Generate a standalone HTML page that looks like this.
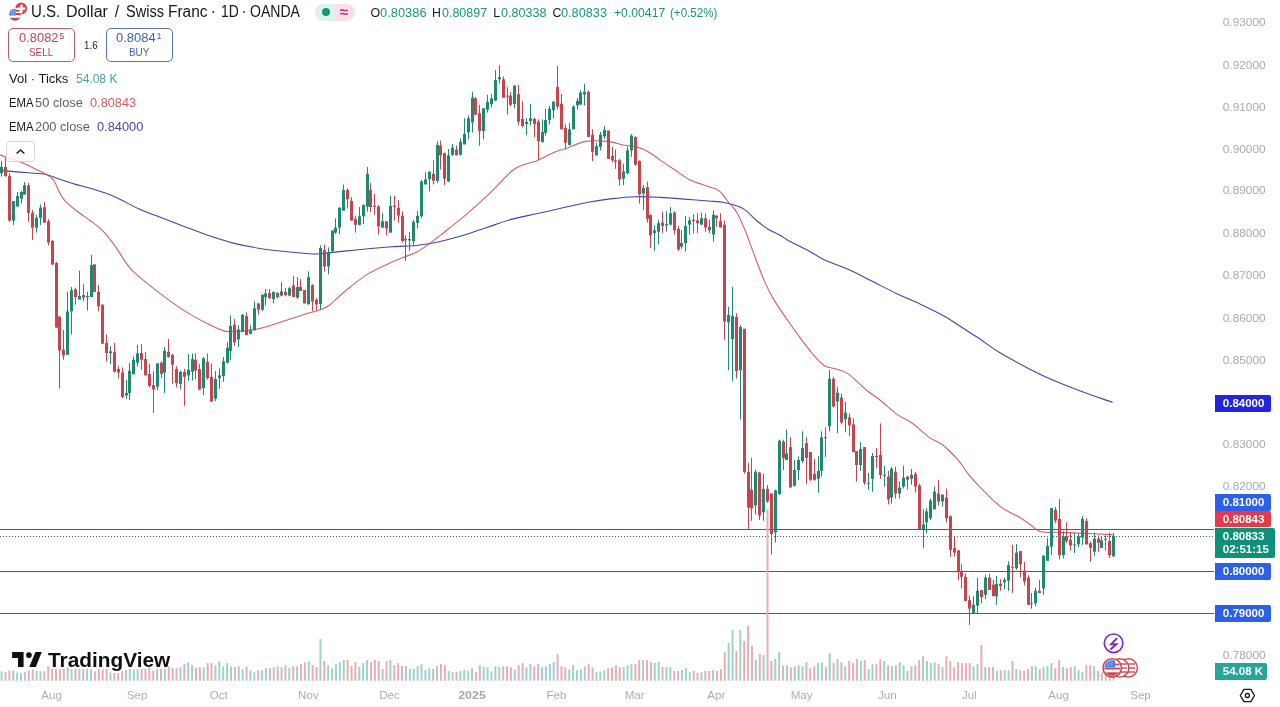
<!DOCTYPE html>
<html><head><meta charset="utf-8"><title>USDCHF</title>
<style>
html,body{margin:0;padding:0;background:#fff;}
body{width:1280px;height:707px;overflow:hidden;position:relative;font-family:"Liberation Sans",Arial,sans-serif;}
.chart{position:absolute;left:0;top:0;}
.t{position:absolute;white-space:pre;}
.tag{position:absolute;left:1215.3px;color:#fff;font-weight:700;box-sizing:border-box;padding-left:7.5px;border-radius:0 2px 2px 0;font-family:"Liberation Sans",Arial,sans-serif;}
.box{position:absolute;box-sizing:border-box;border:1px solid;border-radius:5px;background:#fff;}
</style></head><body>
<svg class="chart" width="1280" height="707" viewBox="0 0 1280 707">
<g stroke="#4d5a6a" stroke-width="1">
<line x1="0" y1="529.5" x2="1214" y2="529.5"/>
<line x1="0" y1="571.5" x2="1214" y2="571.5"/>
<line x1="0" y1="613.5" x2="1214" y2="613.5"/>
</g>
<line x1="0" y1="536.5" x2="1214" y2="536.5" stroke="#3f5a5a" stroke-width="1" stroke-dasharray="1 2"/>
<g fill="#a2d0cc"><rect x="0.60" y="671.3" width="2" height="9.4"/><rect x="12.26" y="670.3" width="2" height="10.4"/><rect x="16.15" y="672.5" width="2" height="8.2"/><rect x="20.04" y="673.1" width="2" height="7.6"/><rect x="23.93" y="672.3" width="2" height="8.4"/><rect x="35.59" y="671.0" width="2" height="9.7"/><rect x="39.48" y="671.3" width="2" height="9.4"/><rect x="66.70" y="667.5" width="2" height="13.2"/><rect x="70.58" y="669.0" width="2" height="11.7"/><rect x="78.36" y="669.0" width="2" height="11.7"/><rect x="86.14" y="669.0" width="2" height="11.7"/><rect x="90.02" y="669.4" width="2" height="11.3"/><rect x="109.46" y="672.5" width="2" height="8.2"/><rect x="125.02" y="670.0" width="2" height="10.7"/><rect x="128.90" y="669.0" width="2" height="11.7"/><rect x="132.79" y="669.4" width="2" height="11.3"/><rect x="136.68" y="669.4" width="2" height="11.3"/><rect x="156.12" y="669.0" width="2" height="11.7"/><rect x="163.90" y="669.0" width="2" height="11.7"/><rect x="179.45" y="667.3" width="2" height="13.4"/><rect x="187.22" y="662.3" width="2" height="18.4"/><rect x="191.11" y="665.3" width="2" height="15.4"/><rect x="202.78" y="667.3" width="2" height="13.4"/><rect x="214.44" y="665.3" width="2" height="15.4"/><rect x="218.33" y="661.3" width="2" height="19.4"/><rect x="222.22" y="666.3" width="2" height="14.4"/><rect x="226.10" y="663.1" width="2" height="17.6"/><rect x="229.99" y="666.3" width="2" height="14.4"/><rect x="237.77" y="666.3" width="2" height="14.4"/><rect x="241.66" y="669.1" width="2" height="11.6"/><rect x="249.43" y="670.3" width="2" height="10.4"/><rect x="253.32" y="672.3" width="2" height="8.4"/><rect x="261.10" y="670.3" width="2" height="10.4"/><rect x="264.98" y="668.1" width="2" height="12.6"/><rect x="272.76" y="667.3" width="2" height="13.4"/><rect x="280.54" y="667.3" width="2" height="13.4"/><rect x="288.31" y="668.1" width="2" height="12.6"/><rect x="296.09" y="666.3" width="2" height="14.4"/><rect x="307.75" y="661.3" width="2" height="19.4"/><rect x="319.42" y="639.0" width="2" height="41.7"/><rect x="327.19" y="665.3" width="2" height="15.4"/><rect x="331.08" y="668.1" width="2" height="12.6"/><rect x="334.97" y="664.0" width="2" height="16.7"/><rect x="338.86" y="662.1" width="2" height="18.6"/><rect x="342.74" y="660.0" width="2" height="20.7"/><rect x="358.30" y="667.0" width="2" height="13.7"/><rect x="362.18" y="663.1" width="2" height="17.6"/><rect x="366.07" y="660.0" width="2" height="20.7"/><rect x="381.62" y="669.0" width="2" height="11.7"/><rect x="389.40" y="660.0" width="2" height="20.7"/><rect x="404.95" y="666.0" width="2" height="14.7"/><rect x="408.84" y="669.0" width="2" height="11.7"/><rect x="412.73" y="669.0" width="2" height="11.7"/><rect x="416.62" y="666.0" width="2" height="14.7"/><rect x="420.50" y="664.0" width="2" height="16.7"/><rect x="424.39" y="670.0" width="2" height="10.7"/><rect x="428.28" y="668.1" width="2" height="12.6"/><rect x="436.06" y="666.0" width="2" height="14.7"/><rect x="447.72" y="671.0" width="2" height="9.7"/><rect x="451.61" y="672.0" width="2" height="8.7"/><rect x="459.38" y="671.0" width="2" height="9.7"/><rect x="463.27" y="670.0" width="2" height="10.7"/><rect x="467.16" y="671.0" width="2" height="9.7"/><rect x="471.05" y="668.1" width="2" height="12.6"/><rect x="482.71" y="667.0" width="2" height="13.7"/><rect x="486.60" y="667.3" width="2" height="13.4"/><rect x="490.49" y="671.3" width="2" height="9.4"/><rect x="494.38" y="666.3" width="2" height="14.4"/><rect x="498.26" y="667.3" width="2" height="13.4"/><rect x="513.82" y="669.4" width="2" height="11.3"/><rect x="525.48" y="667.3" width="2" height="13.4"/><rect x="529.37" y="664.0" width="2" height="16.7"/><rect x="541.03" y="667.3" width="2" height="13.4"/><rect x="544.92" y="666.3" width="2" height="14.4"/><rect x="548.81" y="664.0" width="2" height="16.7"/><rect x="552.70" y="662.3" width="2" height="18.4"/><rect x="568.25" y="669.4" width="2" height="11.3"/><rect x="572.14" y="665.3" width="2" height="15.4"/><rect x="576.02" y="670.3" width="2" height="10.4"/><rect x="579.91" y="669.4" width="2" height="11.3"/><rect x="583.80" y="666.3" width="2" height="14.4"/><rect x="595.46" y="672.3" width="2" height="8.4"/><rect x="599.35" y="671.3" width="2" height="9.4"/><rect x="603.24" y="670.3" width="2" height="10.4"/><rect x="622.68" y="667.0" width="2" height="13.7"/><rect x="626.57" y="665.0" width="2" height="15.7"/><rect x="630.46" y="664.0" width="2" height="16.7"/><rect x="642.12" y="660.0" width="2" height="20.7"/><rect x="653.78" y="663.0" width="2" height="17.7"/><rect x="657.67" y="662.0" width="2" height="18.7"/><rect x="665.45" y="666.9" width="2" height="13.8"/><rect x="669.34" y="666.9" width="2" height="13.8"/><rect x="681.00" y="670.0" width="2" height="10.7"/><rect x="684.89" y="668.0" width="2" height="12.7"/><rect x="688.78" y="672.0" width="2" height="8.7"/><rect x="700.44" y="672.0" width="2" height="8.7"/><rect x="712.10" y="670.0" width="2" height="10.7"/><rect x="727.66" y="643.0" width="2" height="37.7"/><rect x="731.54" y="630.0" width="2" height="50.7"/><rect x="739.32" y="630.0" width="2" height="50.7"/><rect x="754.87" y="660.0" width="2" height="20.7"/><rect x="762.65" y="655.0" width="2" height="25.7"/><rect x="774.31" y="659.0" width="2" height="21.7"/><rect x="778.20" y="652.0" width="2" height="28.7"/><rect x="785.98" y="665.3" width="2" height="15.4"/><rect x="793.75" y="666.3" width="2" height="14.4"/><rect x="797.64" y="665.3" width="2" height="15.4"/><rect x="801.53" y="666.3" width="2" height="14.4"/><rect x="817.08" y="663.1" width="2" height="17.6"/><rect x="820.97" y="662.3" width="2" height="18.4"/><rect x="828.74" y="653.1" width="2" height="27.6"/><rect x="836.52" y="659.1" width="2" height="21.6"/><rect x="844.30" y="666.3" width="2" height="14.4"/><rect x="859.85" y="661.0" width="2" height="19.7"/><rect x="867.62" y="669.1" width="2" height="11.6"/><rect x="871.51" y="664.0" width="2" height="16.7"/><rect x="883.18" y="661.0" width="2" height="19.7"/><rect x="890.95" y="666.3" width="2" height="14.4"/><rect x="898.73" y="662.3" width="2" height="18.4"/><rect x="902.62" y="665.3" width="2" height="15.4"/><rect x="910.39" y="666.3" width="2" height="14.4"/><rect x="922.06" y="656.3" width="2" height="24.4"/><rect x="925.94" y="661.0" width="2" height="19.7"/><rect x="929.83" y="663.1" width="2" height="17.6"/><rect x="933.72" y="662.3" width="2" height="18.4"/><rect x="941.50" y="667.1" width="2" height="13.6"/><rect x="972.60" y="666.2" width="2" height="14.5"/><rect x="976.49" y="664.2" width="2" height="16.5"/><rect x="984.26" y="667.1" width="2" height="13.6"/><rect x="995.93" y="671.0" width="2" height="9.7"/><rect x="1003.70" y="670.2" width="2" height="10.5"/><rect x="1007.59" y="670.2" width="2" height="10.5"/><rect x="1015.37" y="669.1" width="2" height="11.6"/><rect x="1030.92" y="666.2" width="2" height="14.5"/><rect x="1034.81" y="666.2" width="2" height="14.5"/><rect x="1042.58" y="667.1" width="2" height="13.6"/><rect x="1046.47" y="666.2" width="2" height="14.5"/><rect x="1050.36" y="663.1" width="2" height="17.6"/><rect x="1062.02" y="667.1" width="2" height="13.6"/><rect x="1073.69" y="666.2" width="2" height="14.5"/><rect x="1077.58" y="670.2" width="2" height="10.5"/><rect x="1081.46" y="672.1" width="2" height="8.6"/><rect x="1093.13" y="666.2" width="2" height="14.5"/><rect x="1100.90" y="672.4" width="2" height="8.3"/><rect x="1112.57" y="674.0" width="2" height="6.7"/></g>
<g fill="#e4b0b4"><rect x="4.49" y="672.3" width="2" height="8.4"/><rect x="8.38" y="670.3" width="2" height="10.4"/><rect x="27.82" y="670.3" width="2" height="10.4"/><rect x="31.70" y="669.4" width="2" height="11.3"/><rect x="43.37" y="671.3" width="2" height="9.4"/><rect x="47.26" y="666.3" width="2" height="14.4"/><rect x="51.14" y="668.8" width="2" height="11.9"/><rect x="55.03" y="669.0" width="2" height="11.7"/><rect x="58.92" y="669.0" width="2" height="11.7"/><rect x="62.81" y="669.0" width="2" height="11.7"/><rect x="74.47" y="669.0" width="2" height="11.7"/><rect x="82.25" y="669.0" width="2" height="11.7"/><rect x="93.91" y="671.3" width="2" height="9.4"/><rect x="97.80" y="669.0" width="2" height="11.7"/><rect x="101.69" y="669.4" width="2" height="11.3"/><rect x="105.58" y="668.8" width="2" height="11.9"/><rect x="113.35" y="673.1" width="2" height="7.6"/><rect x="117.24" y="673.1" width="2" height="7.6"/><rect x="121.13" y="671.3" width="2" height="9.4"/><rect x="140.57" y="668.8" width="2" height="11.9"/><rect x="144.46" y="668.8" width="2" height="11.9"/><rect x="148.34" y="667.5" width="2" height="13.2"/><rect x="152.23" y="670.6" width="2" height="10.1"/><rect x="160.01" y="669.0" width="2" height="11.7"/><rect x="167.78" y="666.3" width="2" height="14.4"/><rect x="171.67" y="668.1" width="2" height="12.6"/><rect x="175.56" y="668.1" width="2" height="12.6"/><rect x="183.34" y="664.0" width="2" height="16.7"/><rect x="195.00" y="668.1" width="2" height="12.6"/><rect x="198.89" y="667.3" width="2" height="13.4"/><rect x="206.66" y="663.1" width="2" height="17.6"/><rect x="210.55" y="663.1" width="2" height="17.6"/><rect x="233.88" y="667.3" width="2" height="13.4"/><rect x="245.54" y="666.3" width="2" height="14.4"/><rect x="257.21" y="670.3" width="2" height="10.4"/><rect x="268.87" y="668.1" width="2" height="12.6"/><rect x="276.65" y="666.3" width="2" height="14.4"/><rect x="284.42" y="665.3" width="2" height="15.4"/><rect x="292.20" y="666.3" width="2" height="14.4"/><rect x="299.98" y="664.0" width="2" height="16.7"/><rect x="303.86" y="662.3" width="2" height="18.4"/><rect x="311.64" y="665.0" width="2" height="15.7"/><rect x="315.53" y="667.0" width="2" height="13.7"/><rect x="323.30" y="661.0" width="2" height="19.7"/><rect x="346.63" y="660.0" width="2" height="20.7"/><rect x="350.52" y="666.0" width="2" height="14.7"/><rect x="354.41" y="662.1" width="2" height="18.6"/><rect x="369.96" y="662.1" width="2" height="18.6"/><rect x="373.85" y="660.0" width="2" height="20.7"/><rect x="377.74" y="661.0" width="2" height="19.7"/><rect x="385.51" y="661.0" width="2" height="19.7"/><rect x="393.29" y="665.0" width="2" height="15.7"/><rect x="397.18" y="663.1" width="2" height="17.6"/><rect x="401.06" y="666.0" width="2" height="14.7"/><rect x="432.17" y="669.0" width="2" height="11.7"/><rect x="439.94" y="664.0" width="2" height="16.7"/><rect x="443.83" y="665.0" width="2" height="15.7"/><rect x="455.50" y="672.0" width="2" height="8.7"/><rect x="474.94" y="672.3" width="2" height="8.4"/><rect x="478.82" y="665.3" width="2" height="15.4"/><rect x="502.15" y="666.3" width="2" height="14.4"/><rect x="506.04" y="666.3" width="2" height="14.4"/><rect x="509.93" y="667.3" width="2" height="13.4"/><rect x="517.70" y="665.3" width="2" height="15.4"/><rect x="521.59" y="663.1" width="2" height="17.6"/><rect x="533.26" y="666.3" width="2" height="14.4"/><rect x="537.14" y="664.0" width="2" height="16.7"/><rect x="556.58" y="654.1" width="2" height="26.6"/><rect x="560.47" y="666.3" width="2" height="14.4"/><rect x="564.36" y="667.3" width="2" height="13.4"/><rect x="587.69" y="664.0" width="2" height="16.7"/><rect x="591.58" y="667.3" width="2" height="13.4"/><rect x="607.13" y="668.1" width="2" height="12.6"/><rect x="611.02" y="667.3" width="2" height="13.4"/><rect x="614.90" y="665.3" width="2" height="15.4"/><rect x="618.79" y="667.3" width="2" height="13.4"/><rect x="634.34" y="664.0" width="2" height="16.7"/><rect x="638.23" y="660.0" width="2" height="20.7"/><rect x="646.01" y="660.0" width="2" height="20.7"/><rect x="649.90" y="662.0" width="2" height="18.7"/><rect x="661.56" y="666.9" width="2" height="13.8"/><rect x="673.22" y="671.0" width="2" height="9.7"/><rect x="677.11" y="671.0" width="2" height="9.7"/><rect x="692.66" y="671.0" width="2" height="9.7"/><rect x="696.55" y="673.0" width="2" height="7.7"/><rect x="704.33" y="671.0" width="2" height="9.7"/><rect x="708.22" y="671.0" width="2" height="9.7"/><rect x="715.99" y="671.0" width="2" height="9.7"/><rect x="719.88" y="669.0" width="2" height="11.7"/><rect x="723.77" y="652.0" width="2" height="28.7"/><rect x="735.43" y="651.0" width="2" height="29.7"/><rect x="743.21" y="641.0" width="2" height="39.7"/><rect x="747.10" y="626.0" width="2" height="54.7"/><rect x="750.98" y="646.0" width="2" height="34.7"/><rect x="758.76" y="654.0" width="2" height="26.7"/><rect x="766.54" y="509.4" width="2" height="171.3"/><rect x="770.42" y="661.0" width="2" height="19.7"/><rect x="782.09" y="665.3" width="2" height="15.4"/><rect x="789.86" y="667.3" width="2" height="13.4"/><rect x="805.42" y="662.3" width="2" height="18.4"/><rect x="809.30" y="668.1" width="2" height="12.6"/><rect x="813.19" y="666.3" width="2" height="14.4"/><rect x="824.86" y="667.3" width="2" height="13.4"/><rect x="832.63" y="663.1" width="2" height="17.6"/><rect x="840.41" y="662.3" width="2" height="18.4"/><rect x="848.18" y="661.0" width="2" height="19.7"/><rect x="852.07" y="663.1" width="2" height="17.6"/><rect x="855.96" y="659.1" width="2" height="21.6"/><rect x="863.74" y="660.0" width="2" height="20.7"/><rect x="875.40" y="664.0" width="2" height="16.7"/><rect x="879.29" y="659.1" width="2" height="21.6"/><rect x="887.06" y="665.3" width="2" height="15.4"/><rect x="894.84" y="665.3" width="2" height="15.4"/><rect x="906.50" y="671.0" width="2" height="9.7"/><rect x="914.28" y="665.3" width="2" height="15.4"/><rect x="918.17" y="660.0" width="2" height="20.7"/><rect x="937.61" y="664.0" width="2" height="16.7"/><rect x="945.38" y="656.2" width="2" height="24.5"/><rect x="949.27" y="660.9" width="2" height="19.8"/><rect x="953.16" y="667.1" width="2" height="13.6"/><rect x="957.05" y="662.1" width="2" height="18.6"/><rect x="960.94" y="663.1" width="2" height="17.6"/><rect x="964.82" y="663.1" width="2" height="17.6"/><rect x="968.71" y="663.1" width="2" height="17.6"/><rect x="980.38" y="645.1" width="2" height="35.6"/><rect x="988.15" y="667.1" width="2" height="13.6"/><rect x="992.04" y="667.1" width="2" height="13.6"/><rect x="999.82" y="670.2" width="2" height="10.5"/><rect x="1011.48" y="660.9" width="2" height="19.8"/><rect x="1019.26" y="670.2" width="2" height="10.5"/><rect x="1023.14" y="671.0" width="2" height="9.7"/><rect x="1027.03" y="669.1" width="2" height="11.6"/><rect x="1038.70" y="669.1" width="2" height="11.6"/><rect x="1054.25" y="668.1" width="2" height="12.6"/><rect x="1058.14" y="660.2" width="2" height="20.5"/><rect x="1065.91" y="668.1" width="2" height="12.6"/><rect x="1069.80" y="667.1" width="2" height="13.6"/><rect x="1085.35" y="665.2" width="2" height="15.5"/><rect x="1089.24" y="665.2" width="2" height="15.5"/><rect x="1097.02" y="671.0" width="2" height="9.7"/><rect x="1104.79" y="674.0" width="2" height="6.7"/><rect x="1108.68" y="674.0" width="2" height="6.7"/></g>
<path d="M0.0,170.4 C1.4,170.5 3.8,170.7 8.5,171.1 C13.2,171.5 22.2,172.3 28.3,172.8 C34.4,173.3 40.6,173.3 45.3,174.2 C50.0,175.1 53.3,177.1 56.6,178.2 C59.9,179.3 61.7,179.9 65.0,181.0 C68.3,182.1 72.2,183.4 76.4,184.6 C80.6,185.8 83.7,186.2 90.0,188.2 C96.3,190.2 106.0,193.1 114.0,196.5 C122.0,199.9 130.1,204.9 138.1,208.5 C146.1,212.1 154.2,215.0 162.2,218.1 C170.2,221.2 178.2,224.2 186.2,227.2 C194.2,230.2 202.2,233.4 210.2,236.1 C218.2,238.8 226.3,241.4 234.3,243.4 C242.3,245.4 250.4,246.9 258.4,248.2 C266.4,249.5 274.4,250.4 282.4,251.3 C290.4,252.2 300.2,253.1 306.5,253.5 C312.8,253.9 313.8,254.2 320.0,253.8 C326.2,253.4 336.0,251.9 344.0,251.1 C352.0,250.2 360.1,249.4 368.1,248.7 C376.1,248.0 384.2,247.2 392.2,246.7 C400.2,246.2 410.2,246.0 416.2,245.5 C422.2,245.0 424.2,244.6 428.2,243.9 C432.2,243.2 434.2,243.0 440.2,241.5 C446.2,240.0 456.3,237.4 464.3,235.0 C472.3,232.6 480.3,229.7 488.3,227.0 C496.3,224.3 504.4,221.3 512.4,219.1 C520.4,216.9 528.5,215.6 536.4,213.8 C544.3,212.0 551.4,210.4 560.0,208.5 C568.6,206.6 579.4,203.8 588.1,202.2 C596.8,200.5 604.2,199.5 612.2,198.6 C620.2,197.7 628.2,196.9 636.2,196.7 C644.2,196.5 652.3,197.0 660.3,197.4 C668.3,197.8 676.3,198.5 684.3,199.1 C692.3,199.7 702.0,200.5 708.4,201.0 C714.8,201.5 718.8,201.6 722.8,202.2 C726.8,202.8 728.8,203.4 732.4,204.6 C736.0,205.8 740.4,206.8 744.4,209.4 C748.4,212.1 752.5,217.2 756.5,220.5 C760.5,223.8 764.6,227.1 768.5,229.5 C772.4,231.9 776.7,233.4 780.0,235.2 C783.3,237.0 783.6,237.9 788.1,240.4 C792.6,242.9 801.3,246.9 807.3,250.1 C813.3,253.3 817.4,256.5 824.2,259.7 C831.0,262.9 840.2,265.7 848.2,269.3 C856.2,272.9 864.3,277.3 872.3,281.3 C880.3,285.3 888.3,289.6 896.3,293.4 C904.3,297.2 912.4,300.4 920.4,304.2 C928.4,308.0 937.6,312.4 944.4,316.2 C951.2,320.0 955.4,323.2 961.3,327.0 C967.2,330.8 973.5,334.7 980.0,339.0 C986.5,343.3 989.9,346.8 1000.0,352.7 C1010.1,358.6 1027.5,368.2 1040.4,374.4 C1053.4,380.6 1065.7,385.3 1077.7,390.0 C1089.7,394.7 1106.8,400.3 1112.6,402.4" fill="none" stroke="#4643a8" stroke-width="1.1"/>
<path d="M0.0,154.9 C1.0,155.2 2.6,155.9 5.7,157.0 C8.8,158.1 14.6,159.8 18.4,161.2 C22.2,162.6 25.2,164.1 28.3,165.5 C31.4,166.9 33.7,168.2 36.8,169.7 C39.9,171.2 43.9,172.9 46.7,174.7 C49.5,176.5 51.6,177.4 53.7,180.3 C55.8,183.2 57.5,188.9 59.4,192.3 C61.3,195.7 62.2,197.7 65.0,200.8 C67.8,203.9 72.2,207.4 76.4,210.7 C80.6,214.0 85.7,217.3 90.0,220.5 C94.3,223.7 98.0,226.1 102.0,230.1 C106.0,234.1 109.6,238.6 114.0,244.6 C118.4,250.6 124.5,261.0 128.5,266.2 C132.5,271.4 132.5,271.0 138.1,275.8 C143.7,280.6 154.2,289.1 162.2,295.1 C170.2,301.1 178.2,306.9 186.2,311.9 C194.2,316.9 203.8,321.9 210.2,325.1 C216.6,328.3 220.7,330.0 224.7,331.1 C228.7,332.2 228.7,332.0 234.3,331.6 C239.9,331.2 250.4,330.4 258.4,328.7 C266.4,327.0 274.4,324.0 282.4,321.5 C290.4,319.0 300.1,315.8 306.5,313.8 C312.9,311.8 317.0,311.0 320.9,309.5 C324.8,308.0 325.7,307.9 330.0,304.7 C334.3,301.4 340.1,295.1 346.5,290.0 C352.9,284.9 360.5,278.6 368.1,273.9 C375.7,269.2 386.2,264.7 392.2,261.9 C398.2,259.1 400.2,258.7 404.2,257.1 C408.2,255.5 412.2,254.4 416.2,252.3 C420.2,250.2 424.2,247.4 428.2,244.6 C432.2,241.8 434.2,240.1 440.2,235.4 C446.2,230.7 456.3,223.0 464.3,216.2 C472.3,209.4 480.3,202.2 488.3,194.6 C496.3,187.0 506.4,175.5 512.4,170.5 C518.4,165.5 520.4,166.1 524.4,164.5 C528.4,162.9 532.4,162.5 536.4,160.9 C540.4,159.3 544.6,156.7 548.5,154.9 C552.4,153.1 557.4,151.0 560.0,150.1 C562.6,149.2 559.7,150.8 564.0,149.3 C568.3,147.9 578.5,142.7 585.7,141.4 C592.9,140.1 600.9,140.8 607.3,141.4 C613.7,142.0 619.4,144.3 624.2,145.2 C629.0,146.1 632.2,145.8 636.2,146.9 C640.2,148.0 644.2,149.5 648.2,151.7 C652.2,153.9 655.9,157.1 660.3,160.1 C664.7,163.1 669.9,166.5 674.7,169.7 C679.5,172.9 683.5,176.6 689.1,179.4 C694.7,182.2 703.4,184.7 708.4,186.6 C713.4,188.5 716.0,188.5 719.2,190.9 C722.4,193.3 724.6,197.3 727.6,201.0 C730.6,204.7 734.0,207.4 737.2,213.0 C740.4,218.6 744.3,228.7 746.8,234.7 C749.3,240.7 749.1,241.3 752.0,248.9 C754.9,256.5 760.4,271.7 764.0,280.1 C767.6,288.5 769.7,292.6 773.7,299.4 C777.7,306.2 783.7,314.6 788.1,321.0 C792.5,327.4 796.1,332.4 800.1,337.8 C804.1,343.2 808.2,348.9 812.2,353.5 C816.2,358.1 820.2,362.9 824.2,365.5 C828.2,368.1 832.2,367.7 836.2,369.1 C840.2,370.5 843.2,370.4 848.2,373.9 C853.2,377.4 861.0,385.6 866.3,390.0 C871.6,394.4 874.8,395.9 880.0,400.0 C885.2,404.1 892.5,411.1 897.8,414.9 C903.1,418.7 906.4,419.0 911.7,422.8 C917.0,426.6 924.2,433.8 929.5,437.6 C934.8,441.4 938.4,441.5 943.4,445.5 C948.4,449.5 954.9,456.4 959.2,461.4 C963.5,466.3 965.5,470.8 969.1,475.2 C972.7,479.6 975.7,482.8 981.0,488.1 C986.3,493.4 994.5,502.1 1000.8,506.9 C1007.1,511.7 1013.6,513.8 1018.6,516.8 C1023.6,519.8 1027.2,522.5 1030.5,524.8 C1033.8,527.1 1035.8,529.5 1038.4,530.7 C1041.0,532.0 1043.0,532.0 1046.3,532.3 C1049.6,532.5 1053.0,532.1 1058.2,532.2 C1063.4,532.3 1068.6,532.7 1077.7,533.1 C1086.8,533.5 1106.8,534.4 1112.6,534.6" fill="none" stroke="#cf5f69" stroke-width="1.1"/>
<path d="M1.5,161.2V176.5M13.5,201.0V224.9M17.5,192.0V206.5M21.5,191.0V203.6M24.5,182.0V194.5M36.5,215.0V232.6M40.5,204.4V224.9M67.5,291.9V354.7M71.5,287.0V334.3M79.5,270.7V299.5M87.5,291.9V310.6M91.5,255.0V297.0M110.5,346.2V364.0M126.5,380.0V398.8M129.5,363.0V400.0M133.5,356.4V374.2M137.5,345.0V366.2M157.5,363.4V390.3M164.5,347.0V393.0M180.5,370.5V389.5M188.5,354.2V381.0M192.5,353.5V380.4M203.5,357.0V395.2M215.5,371.2V400.9M219.5,368.3V388.8M223.5,357.0V381.8M227.5,342.2V363.4M230.5,315.4V359.8M238.5,325.3V347.2M242.5,314.0V332.4M250.5,325.3V334.5M254.5,301.3V330.3M262.5,294.2V311.2M265.5,289.2V305.5M273.5,291.4V303.4M281.5,282.2V296.3M289.5,286.8V296.3M297.5,277.2V299.1M308.5,271.3V304.8M320.5,245.3V309.7M328.5,247.4V274.3M332.5,230.5V253.0M335.5,218.4V234.0M339.5,207.0V234.0M343.5,184.5V210.7M359.5,207.0V225.5M363.5,204.3V224.0M367.5,167.0V211.5M382.5,212.8V227.6M390.5,195.8V232.6M405.5,235.4V260.9M409.5,231.9V251.0M413.5,219.8V245.3M417.5,210.8V228.5M421.5,180.0V218.0M425.5,172.3V184.4M429.5,171.6V191.4M437.5,141.2V183.0M448.5,149.0V182.2M452.5,144.0V156.0M460.5,138.4V155.4M464.5,118.2V144.4M468.5,115.4V139.5M472.5,92.0V132.4M483.5,108.3V139.5M487.5,94.9V112.6M491.5,94.2V107.6M495.5,70.1V100.6M499.5,65.2V83.6M514.5,85.0V108.3M526.5,118.2V135.2M530.5,104.1V125.3M542.5,119.4V142.7M545.5,108.8V135.7M549.5,106.0V124.4M553.5,101.0V118.0M569.5,122.9V145.6M573.5,105.3V129.3M577.5,98.2V109.5M580.5,90.4V104.6M584.5,84.0V105.3M596.5,142.6V155.4M600.5,132.0V150.4M604.5,126.0V139.0M623.5,163.8V185.0M627.5,146.9V174.5M631.5,134.1V156.8M643.5,185.0V209.8M654.5,225.4V250.8M658.5,219.7V244.5M666.5,211.2V231.7M670.5,207.0V225.4M681.5,230.3V248.7M685.5,216.2V251.5M689.5,216.9V234.6M701.5,212.6V224.7M713.5,210.5V241.6M728.5,306.8V370.2M732.5,286.9V381.2M740.5,325.1V419.5M755.5,469.5V514.6M763.5,474.1V520.8M775.5,489.7V542.6M779.5,439.7V494.9M786.5,429.6V460.0M794.5,460.0V486.6M798.5,456.3V480.2M802.5,431.3V463.0M818.5,456.0V492.7M821.5,431.3V476.8M829.5,369.9V431.3M837.5,386.7V433.3M845.5,401.6V432.3M860.5,442.2V470.9M868.5,472.9V489.7M872.5,453.0V491.7M884.5,465.8V486.6M891.5,466.8V503.5M899.5,481.7V498.5M903.5,465.8V488.6M911.5,468.8V484.7M923.5,509.4V548.0M926.5,508.4V533.2M930.5,498.5V520.3M934.5,486.6V509.4M942.5,494.6V506.4M973.5,596.2V613.4M977.5,577.6V613.4M985.5,575.2V599.4M996.5,576.0V604.8M1004.5,577.6V589.2M1008.5,561.2V590.8M1016.5,544.1V569.8M1031.5,593.1V608.7M1035.5,587.7V606.4M1043.5,555.0V594.7M1047.5,538.1V560.8M1051.5,508.1V555.1M1063.5,531.3V558.5M1074.5,533.6V552.9M1078.5,533.6V547.2M1082.5,516.0V544.9M1094.5,532.5V555.7M1101.5,537.0V547.8M1113.5,533.0V556.8" stroke="#1d8a70" stroke-width="1" fill="none"/>
<g fill="#1d8a70"><rect x="0" y="166.9" width="3" height="6.3"/><rect x="12" y="201.1" width="3" height="19.5"/><rect x="16" y="195.9" width="3" height="10.6"/><rect x="20" y="192.0" width="3" height="6.7"/><rect x="23" y="185.3" width="3" height="9.2"/><rect x="35" y="217.8" width="3" height="9.9"/><rect x="39" y="207.6" width="3" height="10.2"/><rect x="66" y="311.4" width="3" height="43.3"/><rect x="70" y="290.2" width="3" height="21.2"/><rect x="78" y="296.0" width="3" height="3.5"/><rect x="86" y="296.0" width="3" height="1.0"/><rect x="90" y="265.0" width="3" height="32.0"/><rect x="109" y="351.3" width="3" height="2.0"/><rect x="125" y="393.0" width="3" height="2.4"/><rect x="128" y="370.8" width="3" height="22.2"/><rect x="132" y="359.8" width="3" height="14.4"/><rect x="136" y="353.5" width="3" height="9.2"/><rect x="156" y="363.4" width="3" height="23.3"/><rect x="163" y="350.7" width="3" height="21.9"/><rect x="179" y="371.9" width="3" height="12.0"/><rect x="187" y="369.7" width="3" height="5.7"/><rect x="191" y="359.1" width="3" height="12.8"/><rect x="202" y="358.4" width="3" height="29.7"/><rect x="214" y="379.0" width="3" height="19.7"/><rect x="218" y="375.4" width="3" height="2.8"/><rect x="222" y="361.3" width="3" height="14.7"/><rect x="226" y="347.8" width="3" height="14.9"/><rect x="229" y="326.0" width="3" height="24.8"/><rect x="237" y="329.5" width="3" height="10.0"/><rect x="241" y="314.7" width="3" height="17.0"/><rect x="249" y="330.3" width="3" height="3.5"/><rect x="253" y="308.3" width="3" height="22.0"/><rect x="261" y="294.9" width="3" height="14.8"/><rect x="264" y="293.5" width="3" height="3.5"/><rect x="272" y="292.0" width="3" height="7.1"/><rect x="280" y="291.4" width="3" height="4.2"/><rect x="288" y="288.2" width="3" height="7.4"/><rect x="296" y="287.1" width="3" height="10.6"/><rect x="307" y="277.2" width="3" height="26.9"/><rect x="319" y="248.0" width="3" height="56.1"/><rect x="327" y="252.4" width="3" height="14.1"/><rect x="331" y="230.5" width="3" height="20.5"/><rect x="334" y="227.6" width="3" height="5.0"/><rect x="338" y="207.8" width="3" height="19.8"/><rect x="342" y="190.1" width="3" height="20.6"/><rect x="358" y="216.3" width="3" height="8.5"/><rect x="362" y="205.0" width="3" height="11.3"/><rect x="366" y="174.0" width="3" height="32.6"/><rect x="381" y="221.3" width="3" height="6.3"/><rect x="389" y="205.7" width="3" height="26.9"/><rect x="404" y="239.0" width="3" height="1.4"/><rect x="408" y="239.0" width="3" height="1.4"/><rect x="412" y="222.0" width="3" height="19.0"/><rect x="416" y="215.8" width="3" height="7.0"/><rect x="420" y="181.5" width="3" height="34.7"/><rect x="424" y="179.4" width="3" height="5.0"/><rect x="428" y="171.6" width="3" height="7.8"/><rect x="436" y="144.8" width="3" height="36.0"/><rect x="447" y="155.4" width="3" height="26.1"/><rect x="451" y="147.6" width="3" height="7.1"/><rect x="459" y="141.9" width="3" height="12.8"/><rect x="463" y="133.8" width="3" height="10.6"/><rect x="467" y="118.2" width="3" height="14.2"/><rect x="471" y="97.7" width="3" height="24.8"/><rect x="482" y="108.3" width="3" height="22.7"/><rect x="486" y="102.0" width="3" height="7.7"/><rect x="490" y="98.4" width="3" height="5.6"/><rect x="494" y="80.0" width="3" height="20.6"/><rect x="498" y="77.2" width="3" height="2.1"/><rect x="513" y="85.7" width="3" height="18.4"/><rect x="525" y="121.8" width="3" height="2.1"/><rect x="529" y="118.2" width="3" height="2.8"/><rect x="541" y="132.1" width="3" height="9.9"/><rect x="544" y="120.0" width="3" height="12.8"/><rect x="548" y="108.8" width="3" height="11.3"/><rect x="552" y="101.7" width="3" height="8.5"/><rect x="568" y="129.3" width="3" height="15.6"/><rect x="572" y="106.7" width="3" height="22.6"/><rect x="576" y="101.0" width="3" height="4.3"/><rect x="579" y="92.5" width="3" height="12.1"/><rect x="583" y="91.8" width="3" height="2.9"/><rect x="595" y="146.2" width="3" height="9.2"/><rect x="599" y="134.9" width="3" height="12.0"/><rect x="603" y="129.9" width="3" height="6.4"/><rect x="622" y="171.6" width="3" height="7.1"/><rect x="626" y="150.4" width="3" height="22.6"/><rect x="630" y="135.6" width="3" height="14.8"/><rect x="642" y="187.9" width="3" height="5.6"/><rect x="653" y="230.3" width="3" height="2.8"/><rect x="657" y="223.2" width="3" height="8.5"/><rect x="665" y="224.0" width="3" height="1.4"/><rect x="669" y="213.3" width="3" height="11.4"/><rect x="680" y="243.0" width="3" height="3.6"/><rect x="684" y="226.0" width="3" height="17.0"/><rect x="688" y="220.4" width="3" height="4.3"/><rect x="700" y="218.3" width="3" height="6.4"/><rect x="712" y="214.8" width="3" height="19.8"/><rect x="727" y="315.0" width="3" height="7.4"/><rect x="731" y="316.0" width="3" height="23.0"/><rect x="739" y="327.0" width="3" height="43.2"/><rect x="754" y="471.8" width="3" height="33.5"/><rect x="762" y="488.9" width="3" height="23.4"/><rect x="774" y="490.5" width="3" height="42.0"/><rect x="778" y="440.7" width="3" height="53.3"/><rect x="785" y="453.5" width="3" height="6.5"/><rect x="793" y="470.0" width="3" height="15.7"/><rect x="797" y="460.0" width="3" height="10.0"/><rect x="801" y="448.1" width="3" height="12.9"/><rect x="817" y="470.9" width="3" height="7.9"/><rect x="820" y="437.2" width="3" height="33.7"/><rect x="828" y="378.8" width="3" height="47.5"/><rect x="836" y="392.7" width="3" height="8.9"/><rect x="844" y="412.5" width="3" height="6.9"/><rect x="859" y="449.1" width="3" height="15.9"/><rect x="867" y="482.8" width="3" height="1.0"/><rect x="871" y="456.0" width="3" height="22.8"/><rect x="883" y="474.8" width="3" height="1.0"/><rect x="890" y="468.8" width="3" height="28.7"/><rect x="898" y="487.6" width="3" height="6.0"/><rect x="902" y="477.7" width="3" height="8.9"/><rect x="910" y="474.8" width="3" height="3.9"/><rect x="922" y="524.3" width="3" height="4.9"/><rect x="925" y="511.4" width="3" height="10.9"/><rect x="929" y="500.5" width="3" height="17.8"/><rect x="933" y="491.6" width="3" height="17.8"/><rect x="941" y="494.6" width="3" height="6.9"/><rect x="972" y="604.8" width="3" height="8.6"/><rect x="976" y="590.8" width="3" height="14.8"/><rect x="984" y="577.6" width="3" height="17.1"/><rect x="995" y="583.8" width="3" height="12.4"/><rect x="1003" y="579.9" width="3" height="2.3"/><rect x="1007" y="565.1" width="3" height="15.6"/><rect x="1015" y="552.7" width="3" height="15.5"/><rect x="1030" y="603.2" width="3" height="1.0"/><rect x="1034" y="590.8" width="3" height="12.4"/><rect x="1042" y="555.8" width="3" height="32.7"/><rect x="1046" y="546.0" width="3" height="14.8"/><rect x="1050" y="508.1" width="3" height="38.5"/><rect x="1062" y="536.4" width="3" height="18.7"/><rect x="1073" y="544.4" width="3" height="1.0"/><rect x="1077" y="536.4" width="3" height="8.0"/><rect x="1081" y="518.9" width="3" height="18.7"/><rect x="1093" y="538.7" width="3" height="13.0"/><rect x="1100" y="540.4" width="3" height="7.4"/><rect x="1112" y="535.9" width="3" height="20.4"/></g>
<path d="M5.5,157.7V176.8M9.5,173.2V221.8M28.5,183.1V221.8M32.5,210.0V240.0M44.5,202.2V222.7M48.5,219.0V245.3M52.5,240.0V265.0M56.5,262.0V328.0M59.5,316.5V388.7M63.5,330.0V359.8M75.5,287.6V304.6M83.5,284.2V301.2M94.5,264.4V291.9M98.5,285.0V311.4M102.5,304.6V343.7M106.5,334.3V361.5M114.5,342.8V372.5M118.5,365.7V378.5M122.5,367.4V398.0M141.5,344.0V369.7M145.5,352.0V375.4M149.5,364.0V387.4M153.5,371.2V412.9M161.5,361.3V378.2M168.5,339.0V357.7M172.5,353.5V383.9M176.5,366.2V387.4M184.5,369.0V405.8M195.5,353.5V379.0M199.5,364.0V390.3M207.5,353.5V379.6M211.5,363.4V401.6M234.5,319.0V345.8M246.5,312.3V335.2M258.5,303.4V314.7M269.5,289.2V298.4M277.5,292.0V298.4M285.5,288.2V296.3M293.5,276.1V297.0M300.5,278.9V291.0M304.5,290.0V303.4M312.5,284.3V311.2M316.5,298.1V310.5M324.5,244.6V271.5M347.5,188.4V208.5M351.5,197.2V220.6M355.5,215.6V232.6M370.5,183.0V212.0M374.5,193.7V214.9M378.5,205.0V234.7M386.5,221.3V235.4M394.5,195.8V220.6M398.5,200.0V222.7M402.5,211.4V242.5M433.5,160.3V184.4M440.5,140.5V169.5M444.5,152.5V185.0M456.5,145.5V155.4M475.5,97.0V115.4M479.5,104.8V145.8M503.5,76.5V97.7M507.5,87.1V114.7M510.5,92.0V106.2M518.5,85.0V125.3M522.5,101.3V127.4M534.5,117.5V137.3M538.5,119.4V160.0M557.5,65.9V109.5M561.5,94.0V129.3M565.5,124.4V149.1M588.5,90.4V137.1M592.5,129.2V161.0M608.5,130.6V158.9M612.5,146.9V162.4M615.5,149.7V168.8M619.5,158.9V185.8M635.5,136.3V166.0M639.5,160.3V203.5M647.5,181.5V222.5M650.5,214.8V248.0M662.5,211.9V233.1M674.5,211.2V234.6M678.5,226.0V250.8M693.5,214.0V233.1M697.5,213.3V233.1M705.5,213.3V231.7M709.5,219.7V233.1M716.5,215.5V226.8M720.5,213.3V227.5M724.5,220.4V339.9M736.5,313.2V378.5M744.5,328.8V473.8M748.5,462.7V529.4M751.5,457.8V520.8M759.5,471.8V520.0M767.5,485.0V502.9M771.5,492.8V554.3M783.5,439.7V470.0M790.5,437.0V487.5M806.5,437.2V483.8M810.5,452.0V480.8M814.5,459.0V480.8M825.5,427.3V457.0M833.5,376.8V407.5M841.5,393.7V424.4M849.5,413.5V436.2M853.5,418.4V452.0M856.5,451.0V481.8M864.5,447.1V484.8M876.5,448.1V467.9M880.5,423.4V478.8M888.5,470.8V504.5M895.5,466.8V498.5M907.5,475.7V489.6M915.5,471.8V492.6M919.5,483.7V529.2M938.5,479.7V505.4M946.5,488.6V522.3M950.5,515.3V557.0M954.5,536.3V556.6M958.5,550.3V580.0M961.5,564.3V588.5M965.5,573.7V600.9M969.5,595.5V625.0M981.5,590.0V603.2M989.5,573.7V590.0M993.5,579.9V596.2M1000.5,579.1V590.8M1012.5,544.9V593.1M1020.5,551.1V577.6M1024.5,562.0V585.3M1028.5,575.2V604.8M1039.5,579.9V593.1M1055.5,507.0V523.4M1059.5,499.1V559.6M1066.5,522.3V543.2M1070.5,532.5V550.6M1086.5,518.3V544.4M1090.5,541.5V561.9M1098.5,535.3V551.7M1105.5,535.3V550.6M1109.5,532.5V558.0" stroke="#c7444f" stroke-width="1" fill="none"/>
<g fill="#c7444f"><rect x="4" y="166.9" width="3" height="9.2"/><rect x="8" y="176.1" width="3" height="44.5"/><rect x="27" y="185.3" width="3" height="27.5"/><rect x="31" y="212.8" width="3" height="14.9"/><rect x="43" y="207.2" width="3" height="15.5"/><rect x="47" y="221.2" width="3" height="21.2"/><rect x="51" y="241.0" width="3" height="23.4"/><rect x="55" y="263.0" width="3" height="64.5"/><rect x="58" y="316.5" width="3" height="34.0"/><rect x="62" y="349.6" width="3" height="5.9"/><rect x="74" y="289.3" width="3" height="7.7"/><rect x="82" y="295.0" width="3" height="2.8"/><rect x="93" y="264.4" width="3" height="27.5"/><rect x="97" y="291.9" width="3" height="14.4"/><rect x="101" y="304.6" width="3" height="39.1"/><rect x="105" y="342.8" width="3" height="10.2"/><rect x="113" y="352.2" width="3" height="19.5"/><rect x="117" y="369.0" width="3" height="3.5"/><rect x="121" y="372.5" width="3" height="24.5"/><rect x="140" y="353.0" width="3" height="6.8"/><rect x="144" y="359.1" width="3" height="16.3"/><rect x="148" y="374.0" width="3" height="12.0"/><rect x="152" y="385.0" width="3" height="4.5"/><rect x="160" y="362.7" width="3" height="11.3"/><rect x="167" y="352.0" width="3" height="5.0"/><rect x="171" y="354.9" width="3" height="9.9"/><rect x="175" y="369.0" width="3" height="14.2"/><rect x="183" y="371.9" width="3" height="4.9"/><rect x="194" y="359.8" width="3" height="10.7"/><rect x="198" y="369.0" width="3" height="20.5"/><rect x="206" y="362.0" width="3" height="16.2"/><rect x="210" y="376.8" width="3" height="24.8"/><rect x="233" y="324.6" width="3" height="17.7"/><rect x="245" y="316.1" width="3" height="19.1"/><rect x="257" y="303.4" width="3" height="6.3"/><rect x="268" y="293.0" width="3" height="5.4"/><rect x="276" y="293.0" width="3" height="4.0"/><rect x="284" y="292.0" width="3" height="2.9"/><rect x="292" y="285.4" width="3" height="11.6"/><rect x="299" y="286.8" width="3" height="4.2"/><rect x="303" y="290.0" width="3" height="13.4"/><rect x="311" y="285.0" width="3" height="16.5"/><rect x="315" y="299.8" width="3" height="4.6"/><rect x="323" y="250.3" width="3" height="16.2"/><rect x="346" y="190.1" width="3" height="9.2"/><rect x="350" y="200.8" width="3" height="19.8"/><rect x="354" y="219.1" width="3" height="5.7"/><rect x="369" y="190.1" width="3" height="17.0"/><rect x="373" y="205.7" width="3" height="1.4"/><rect x="377" y="206.4" width="3" height="19.8"/><rect x="385" y="221.3" width="3" height="7.0"/><rect x="393" y="205.7" width="3" height="1.4"/><rect x="397" y="207.8" width="3" height="7.8"/><rect x="401" y="215.6" width="3" height="25.4"/><rect x="432" y="173.7" width="3" height="7.1"/><rect x="439" y="145.5" width="3" height="9.9"/><rect x="443" y="153.2" width="3" height="25.5"/><rect x="455" y="149.7" width="3" height="5.7"/><rect x="474" y="98.4" width="3" height="16.3"/><rect x="478" y="113.3" width="3" height="17.7"/><rect x="502" y="79.3" width="3" height="18.4"/><rect x="506" y="95.6" width="3" height="1.0"/><rect x="509" y="95.6" width="3" height="9.2"/><rect x="517" y="94.2" width="3" height="27.6"/><rect x="521" y="119.0" width="3" height="7.0"/><rect x="533" y="119.0" width="3" height="5.0"/><rect x="537" y="121.5" width="3" height="19.8"/><rect x="556" y="86.9" width="3" height="19.8"/><rect x="560" y="103.8" width="3" height="25.5"/><rect x="564" y="127.9" width="3" height="14.8"/><rect x="587" y="91.8" width="3" height="45.3"/><rect x="591" y="134.9" width="3" height="16.9"/><rect x="607" y="130.6" width="3" height="28.3"/><rect x="611" y="156.0" width="3" height="4.3"/><rect x="614" y="160.3" width="3" height="1.4"/><rect x="618" y="160.3" width="3" height="19.1"/><rect x="634" y="137.0" width="3" height="27.6"/><rect x="638" y="161.0" width="3" height="33.3"/><rect x="646" y="187.2" width="3" height="31.8"/><rect x="649" y="214.8" width="3" height="20.5"/><rect x="661" y="222.5" width="3" height="3.5"/><rect x="673" y="212.6" width="3" height="17.7"/><rect x="677" y="228.9" width="3" height="20.5"/><rect x="692" y="219.7" width="3" height="1.4"/><rect x="696" y="220.4" width="3" height="2.8"/><rect x="704" y="218.3" width="3" height="9.2"/><rect x="708" y="226.8" width="3" height="3.5"/><rect x="715" y="215.5" width="3" height="2.8"/><rect x="719" y="221.1" width="3" height="6.4"/><rect x="723" y="224.7" width="3" height="96.8"/><rect x="735" y="316.9" width="3" height="54.2"/><rect x="743" y="328.8" width="3" height="143.1"/><rect x="747" y="471.9" width="3" height="35.7"/><rect x="750" y="489.7" width="3" height="18.7"/><rect x="758" y="472.6" width="3" height="42.8"/><rect x="766" y="488.9" width="3" height="12.5"/><rect x="770" y="493.6" width="3" height="40.4"/><rect x="782" y="441.6" width="3" height="16.5"/><rect x="789" y="447.1" width="3" height="40.4"/><rect x="805" y="443.2" width="3" height="14.8"/><rect x="809" y="452.0" width="3" height="27.8"/><rect x="813" y="473.9" width="3" height="5.9"/><rect x="824" y="437.2" width="3" height="1.0"/><rect x="832" y="378.8" width="3" height="27.7"/><rect x="840" y="397.6" width="3" height="24.8"/><rect x="848" y="417.4" width="3" height="7.9"/><rect x="852" y="424.4" width="3" height="27.6"/><rect x="855" y="451.0" width="3" height="14.0"/><rect x="863" y="447.1" width="3" height="35.7"/><rect x="875" y="456.0" width="3" height="1.0"/><rect x="879" y="455.0" width="3" height="19.9"/><rect x="887" y="476.7" width="3" height="22.8"/><rect x="894" y="471.8" width="3" height="21.8"/><rect x="906" y="476.7" width="3" height="3.0"/><rect x="914" y="473.8" width="3" height="12.8"/><rect x="918" y="485.6" width="3" height="43.6"/><rect x="937" y="493.6" width="3" height="7.9"/><rect x="945" y="497.5" width="3" height="20.8"/><rect x="949" y="516.3" width="3" height="33.7"/><rect x="953" y="548.0" width="3" height="4.7"/><rect x="957" y="550.3" width="3" height="21.0"/><rect x="960" y="571.3" width="3" height="5.5"/><rect x="964" y="576.8" width="3" height="24.1"/><rect x="968" y="600.1" width="3" height="8.6"/><rect x="980" y="590.0" width="3" height="7.0"/><rect x="988" y="577.6" width="3" height="12.4"/><rect x="992" y="584.6" width="3" height="11.6"/><rect x="999" y="583.8" width="3" height="2.3"/><rect x="1011" y="566.7" width="3" height="1.0"/><rect x="1019" y="551.1" width="3" height="13.2"/><rect x="1023" y="570.6" width="3" height="10.9"/><rect x="1027" y="577.6" width="3" height="27.2"/><rect x="1038" y="590.8" width="3" height="2.3"/><rect x="1054" y="509.8" width="3" height="10.8"/><rect x="1058" y="518.9" width="3" height="36.2"/><rect x="1065" y="536.4" width="3" height="4.6"/><rect x="1069" y="539.8" width="3" height="5.7"/><rect x="1085" y="521.1" width="3" height="23.3"/><rect x="1089" y="543.2" width="3" height="4.6"/><rect x="1097" y="538.7" width="3" height="4.0"/><rect x="1104" y="538.7" width="3" height="1.1"/><rect x="1108" y="541.0" width="3" height="14.1"/></g>
</svg>
<div class="t" style="left:31.0px;top:4.36px;font-size:15.6px;line-height:15.6px;color:#131722;font-weight:400;transform:scaleX(0.9661);transform-origin:0 0;">U.S.</div>
<div class="t" style="left:65.5px;top:4.36px;font-size:15.6px;line-height:15.6px;color:#131722;font-weight:400;transform:scaleX(1.0286);transform-origin:0 0;">Dollar</div>
<div class="t" style="left:16.900000000000006px;width:200px;text-align:center;top:4.36px;font-size:15.6px;line-height:15.6px;color:#131722;font-weight:400;">/</div>
<div class="t" style="left:125.7px;top:4.36px;font-size:15.6px;line-height:15.6px;color:#131722;font-weight:400;transform:scaleX(0.9329);transform-origin:0 0;">Swiss</div>
<div class="t" style="left:168.0px;top:4.36px;font-size:15.6px;line-height:15.6px;color:#131722;font-weight:400;transform:scaleX(0.9931);transform-origin:0 0;">Franc</div>
<div class="t" style="left:113.35000000000002px;width:200px;text-align:center;top:4.36px;font-size:15.6px;line-height:15.6px;color:#131722;font-weight:400;">·</div>
<div class="t" style="left:220.5px;top:4.36px;font-size:15.6px;line-height:15.6px;color:#131722;font-weight:400;transform:scaleX(0.8928);transform-origin:0 0;">1D</div>
<div class="t" style="left:144.0px;width:200px;text-align:center;top:4.36px;font-size:15.6px;line-height:15.6px;color:#131722;font-weight:400;">·</div>
<div class="t" style="left:250.0px;top:4.36px;font-size:15.6px;line-height:15.6px;color:#131722;font-weight:400;transform:scaleX(0.9014);transform-origin:0 0;">OANDA</div>
<div class="t" style="left:370.4px;top:6.92px;font-size:12.3px;line-height:12.3px;color:#131722;font-weight:400;">O</div>
<div class="t" style="left:379.7px;top:6.92px;font-size:12.3px;line-height:12.3px;color:#17977f;font-weight:400;transform:scaleX(1.0483);transform-origin:0 0;">0.80386</div>
<div class="t" style="left:432.0px;top:6.92px;font-size:12.3px;line-height:12.3px;color:#131722;font-weight:400;">H</div>
<div class="t" style="left:441.6px;top:6.92px;font-size:12.3px;line-height:12.3px;color:#17977f;font-weight:400;transform:scaleX(1.0146);transform-origin:0 0;">0.80897</div>
<div class="t" style="left:493.2px;top:6.92px;font-size:12.3px;line-height:12.3px;color:#131722;font-weight:400;">L</div>
<div class="t" style="left:500.9px;top:6.92px;font-size:12.3px;line-height:12.3px;color:#17977f;font-weight:400;transform:scaleX(1.0236);transform-origin:0 0;">0.80338</div>
<div class="t" style="left:552.4px;top:6.92px;font-size:12.3px;line-height:12.3px;color:#131722;font-weight:400;">C</div>
<div class="t" style="left:560.9px;top:6.92px;font-size:12.3px;line-height:12.3px;color:#17977f;font-weight:400;transform:scaleX(1.0348);transform-origin:0 0;">0.80833</div>
<div class="t" style="left:613.8px;top:6.92px;font-size:12.3px;line-height:12.3px;color:#17977f;font-weight:400;transform:scaleX(0.9915);transform-origin:0 0;">+0.00417</div>
<div class="t" style="left:670.3px;top:6.92px;font-size:12.3px;line-height:12.3px;color:#17977f;font-weight:400;transform:scaleX(0.9433);transform-origin:0 0;">(+0.52%)</div>
<div class="t" style="left:8.9px;top:72.13px;font-size:13px;line-height:13px;color:#131722;font-weight:400;transform:scaleX(1.0008);transform-origin:0 0;">Vol · Ticks</div>
<div class="t" style="left:76.3px;top:72.13px;font-size:13px;line-height:13px;color:#3fa89c;font-weight:400;transform:scaleX(0.9235);transform-origin:0 0;">54.08 K</div>
<div class="t" style="left:8.9px;top:96.58px;font-size:12.5px;line-height:12.5px;color:#131722;font-weight:400;transform:scaleX(0.9006);transform-origin:0 0;">EMA</div>
<div class="t" style="left:35.2px;top:96.58px;font-size:12.5px;line-height:12.5px;color:#5d606b;font-weight:400;transform:scaleX(1.0287);transform-origin:0 0;">50 close</div>
<div class="t" style="left:90.3px;top:96.58px;font-size:12.5px;line-height:12.5px;color:#d65b69;font-weight:400;transform:scaleX(1.0202);transform-origin:0 0;">0.80843</div>
<div class="t" style="left:8.9px;top:120.58px;font-size:12.5px;line-height:12.5px;color:#131722;font-weight:400;transform:scaleX(0.9006);transform-origin:0 0;">EMA</div>
<div class="t" style="left:35.2px;top:120.58px;font-size:12.5px;line-height:12.5px;color:#5d606b;font-weight:400;transform:scaleX(1.0259);transform-origin:0 0;">200 close</div>
<div class="t" style="left:97.4px;top:120.58px;font-size:12.5px;line-height:12.5px;color:#4646b4;font-weight:400;transform:scaleX(1.0246);transform-origin:0 0;">0.84000</div>
<div class="t" style="right:14.599999999999909px;text-align:right;top:16.97px;font-size:11.5px;line-height:11.5px;color:#a9a9a9;font-weight:400;transform:scaleX(1.0294);transform-origin:100% 0;">0.93000</div>
<div class="t" style="right:14.599999999999909px;text-align:right;top:59.77px;font-size:11.5px;line-height:11.5px;color:#a9a9a9;font-weight:400;transform:scaleX(1.0294);transform-origin:100% 0;">0.92000</div>
<div class="t" style="right:14.599999999999909px;text-align:right;top:101.86px;font-size:11.5px;line-height:11.5px;color:#a9a9a9;font-weight:400;transform:scaleX(1.0294);transform-origin:100% 0;">0.91000</div>
<div class="t" style="right:14.599999999999909px;text-align:right;top:143.56px;font-size:11.5px;line-height:11.5px;color:#a9a9a9;font-weight:400;transform:scaleX(1.0294);transform-origin:100% 0;">0.90000</div>
<div class="t" style="right:14.599999999999909px;text-align:right;top:185.17px;font-size:11.5px;line-height:11.5px;color:#a9a9a9;font-weight:400;transform:scaleX(1.0294);transform-origin:100% 0;">0.89000</div>
<div class="t" style="right:14.599999999999909px;text-align:right;top:227.97px;font-size:11.5px;line-height:11.5px;color:#a9a9a9;font-weight:400;transform:scaleX(1.0294);transform-origin:100% 0;">0.88000</div>
<div class="t" style="right:14.599999999999909px;text-align:right;top:269.76px;font-size:11.5px;line-height:11.5px;color:#a9a9a9;font-weight:400;transform:scaleX(1.0294);transform-origin:100% 0;">0.87000</div>
<div class="t" style="right:14.599999999999909px;text-align:right;top:312.76px;font-size:11.5px;line-height:11.5px;color:#a9a9a9;font-weight:400;transform:scaleX(1.0294);transform-origin:100% 0;">0.86000</div>
<div class="t" style="right:14.599999999999909px;text-align:right;top:355.06px;font-size:11.5px;line-height:11.5px;color:#a9a9a9;font-weight:400;transform:scaleX(1.0294);transform-origin:100% 0;">0.85000</div>
<div class="t" style="right:14.599999999999909px;text-align:right;top:438.87px;font-size:11.5px;line-height:11.5px;color:#a9a9a9;font-weight:400;transform:scaleX(1.0294);transform-origin:100% 0;">0.83000</div>
<div class="t" style="right:14.599999999999909px;text-align:right;top:480.76px;font-size:11.5px;line-height:11.5px;color:#a9a9a9;font-weight:400;transform:scaleX(1.0294);transform-origin:100% 0;">0.82000</div>
<div class="t" style="right:14.599999999999909px;text-align:right;top:649.57px;font-size:11.5px;line-height:11.5px;color:#a9a9a9;font-weight:400;transform:scaleX(1.0294);transform-origin:100% 0;">0.78000</div>
<div class="t" style="left:-48.4px;width:200px;text-align:center;top:688.82px;font-size:11.6px;line-height:11.6px;color:#adadad;font-weight:400;">Aug</div>
<div class="t" style="left:37.099999999999994px;width:200px;text-align:center;top:688.82px;font-size:11.6px;line-height:11.6px;color:#adadad;font-weight:400;">Sep</div>
<div class="t" style="left:118.75px;width:200px;text-align:center;top:688.82px;font-size:11.6px;line-height:11.6px;color:#adadad;font-weight:400;">Oct</div>
<div class="t" style="left:208.39999999999998px;width:200px;text-align:center;top:688.82px;font-size:11.6px;line-height:11.6px;color:#adadad;font-weight:400;">Nov</div>
<div class="t" style="left:289.5px;width:200px;text-align:center;top:688.82px;font-size:11.6px;line-height:11.6px;color:#adadad;font-weight:400;">Dec</div>
<div class="t" style="left:371.5px;width:200px;text-align:center;top:688.82px;font-size:11.6px;line-height:11.6px;color:#a8a8a8;font-weight:700;transform:scaleX(1.0699);transform-origin:50% 0;">2025</div>
<div class="t" style="left:456.5px;width:200px;text-align:center;top:688.82px;font-size:11.6px;line-height:11.6px;color:#adadad;font-weight:400;">Feb</div>
<div class="t" style="left:534.7px;width:200px;text-align:center;top:688.82px;font-size:11.6px;line-height:11.6px;color:#adadad;font-weight:400;">Mar</div>
<div class="t" style="left:616.3px;width:200px;text-align:center;top:688.82px;font-size:11.6px;line-height:11.6px;color:#adadad;font-weight:400;">Apr</div>
<div class="t" style="left:701.6px;width:200px;text-align:center;top:688.82px;font-size:11.6px;line-height:11.6px;color:#adadad;font-weight:400;">May</div>
<div class="t" style="left:787.4px;width:200px;text-align:center;top:688.82px;font-size:11.6px;line-height:11.6px;color:#adadad;font-weight:400;">Jun</div>
<div class="t" style="left:869.4px;width:200px;text-align:center;top:688.82px;font-size:11.6px;line-height:11.6px;color:#adadad;font-weight:400;">Jul</div>
<div class="t" style="left:958.5999999999999px;width:200px;text-align:center;top:688.82px;font-size:11.6px;line-height:11.6px;color:#adadad;font-weight:400;">Aug</div>
<div class="t" style="left:1040.5px;width:200px;text-align:center;top:688.82px;font-size:11.6px;line-height:11.6px;color:#adadad;font-weight:400;">Sep</div>
<div class="tag" style="top:395.1px;height:16.8px;line-height:16.8px;background:#2424e0;width:55.5px;font-size:11.5px;">0.84000</div>
<div class="tag" style="top:494.2px;height:16.6px;line-height:16.6px;background:#2d60e8;width:55.5px;font-size:11.5px;">0.81000</div>
<div class="tag" style="top:511.3px;height:16.1px;line-height:16.1px;background:#e43a4b;width:55.5px;font-size:11.5px;">0.80843</div>
<div class="tag" style="top:528.1px;height:30.2px;background:#0d9178;width:59.4px;font-size:11.5px;line-height:13.3px;padding-top:2px;box-sizing:border-box">0.80833<br>02:51:15</div>
<div class="tag" style="top:563.0px;height:16.6px;line-height:16.6px;background:#2d60e8;width:55.5px;font-size:11.5px;">0.80000</div>
<div class="tag" style="top:605.0px;height:16.6px;line-height:16.6px;background:#2d60e8;width:55.5px;font-size:11.5px;">0.79000</div>
<div class="tag" style="top:663.2px;height:16.4px;line-height:16.4px;background:#26a69a;width:51.6px;font-size:11.5px;">54.08 K</div>
<svg style="position:absolute;left:0;top:0" width="40" height="30" viewBox="0 0 40 30">
<defs><clipPath id="usc"><circle cx="15" cy="14.85" r="6"/></clipPath><clipPath id="chc"><circle cx="21.2" cy="8.5" r="5.9"/></clipPath></defs>
<circle cx="21.2" cy="8.5" r="5.9" fill="#cd4b50"/>
<path d="M20.4,4.8h2.3v2.6h2.6v2.3h-2.6v2.6h-2.3v-2.6h-2.6v-2.3h2.6z" fill="#fff" clip-path="url(#chc)"/>
<circle cx="15" cy="14.85" r="7" fill="#fff"/>
<g clip-path="url(#usc)">
<rect x="8" y="8" width="15" height="14" fill="#fff"/>
<rect x="8" y="9.6" width="15" height="2.0" fill="#c9434f"/>
<rect x="8" y="13.0" width="15" height="2.0" fill="#c9434f"/>
<rect x="8" y="17.8" width="15" height="4" fill="#c9434f"/>
<rect x="8" y="8" width="7.9" height="7.5" fill="#4a86dc"/>
<g fill="#b9d8fa"><rect x="9.2" y="9.6" width="0.9" height="0.9"/><rect x="11" y="9.6" width="0.9" height="0.9"/><rect x="12.8" y="9.6" width="0.9" height="0.9"/><rect x="14.6" y="9.6" width="0.9" height="0.9"/><rect x="9.2" y="11.4" width="0.9" height="0.9"/><rect x="11" y="11.4" width="0.9" height="0.9"/><rect x="12.8" y="11.4" width="0.9" height="0.9"/><rect x="14.6" y="11.4" width="0.9" height="0.9"/><rect x="9.2" y="13.2" width="0.9" height="0.9"/><rect x="11" y="13.2" width="0.9" height="0.9"/><rect x="12.8" y="13.2" width="0.9" height="0.9"/><rect x="14.6" y="13.2" width="0.9" height="0.9"/></g>
</g></svg>
<div style="position:absolute;left:315.3px;top:3.5px;width:39.4px;height:17px;border-radius:8.5px;overflow:hidden;background:#fbdfe8">
<div style="position:absolute;left:0;top:0;width:19.7px;height:17px;background:#dff0ee"></div>
<div style="position:absolute;left:6.9px;top:4.2px;width:8.2px;height:8.2px;border-radius:50%;background:#109878"></div>
<div style="position:absolute;left:24.4px;top:-0.8px;font-size:15px;line-height:17px;color:#b03a6e;font-weight:700">&#8776;</div>
</div>
<div class="box" style="left:8px;top:28px;width:67px;height:34px;border-color:#b8606b;border-radius:5px"></div>
<div class="box" style="left:106px;top:28px;width:67px;height:34px;border-color:#5b76b8;border-radius:5px"></div>
<div class="t" style="left:18.8px;top:31.73px;font-size:12.8px;line-height:12.8px;color:#c4434f;font-weight:400;transform:scaleX(1.0099);transform-origin:0 0;">0.8082<span style="font-size:9px;position:relative;top:-3.2px;margin-left:0.8px">5</span></div>
<div class="t" style="left:29.4px;top:46.86px;font-size:10.5px;line-height:10.5px;color:#c8424f;font-weight:400;transform:scaleX(0.9421);transform-origin:0 0;">SELL</div>
<div class="t" style="left:116.2px;top:31.73px;font-size:12.8px;line-height:12.8px;color:#3d5fb8;font-weight:400;transform:scaleX(1.0144);transform-origin:0 0;">0.8084<span style="font-size:9px;position:relative;top:-3.2px;margin-left:0.8px">1</span></div>
<div class="t" style="left:128.9px;top:46.86px;font-size:10.5px;line-height:10.5px;color:#3d5fb8;font-weight:400;transform:scaleX(0.9447);transform-origin:0 0;">BUY</div>
<div class="t" style="left:83.9px;top:39.75px;font-size:10.5px;line-height:10.5px;color:#131722;font-weight:400;transform:scaleX(0.9309);transform-origin:0 0;">1.6</div>
<div style="position:absolute;left:6px;top:141px;width:29px;height:21px;box-sizing:border-box;border:1px solid #d6d6d6;border-radius:3.5px;background:rgba(255,255,255,0.8)"></div>
<svg style="position:absolute;left:14px;top:146.2px" width="14" height="10" viewBox="0 0 14 10"><path d="M2.6,7.4 L6.5,4.0 L10.4,7.4" fill="none" stroke="#131722" stroke-width="1.35"/></svg>
<svg style="position:absolute;left:0;top:640px" width="50" height="34" viewBox="0 640 50 34">
<path d="M12.1,651.9 H23.6 V666.9 H18 V657.9 H12.1 Z" fill="#0f0f0f"/>
<circle cx="28.9" cy="655.1" r="2.85" fill="#0f0f0f"/>
<path d="M35.5,651.9 H41.75 L35.8,666.9 H29.25 Z" fill="#0f0f0f"/>
</svg>
<div class="t" style="left:48.2px;top:649.11px;font-size:21px;line-height:21px;color:#0f0f0f;font-weight:700;transform:scaleX(0.9909);transform-origin:0 0;">TradingView</div>
<svg style="position:absolute;left:1095px;top:628px" width="45" height="55" viewBox="1095 628 45 55">
<circle cx="1113.6" cy="643.3" r="9.3" fill="#fff" stroke="#8a2eb0" stroke-width="1.7"/>
<path d="M1116.6,638.6 L1111.2,644.2 H1116.3 L1111.0,649.0" fill="none" stroke="#8a2eb0" stroke-width="2" stroke-linejoin="miter" stroke-linecap="round"/>
<defs><clipPath id="fl"><circle cx="1112.2" cy="667.9" r="7.9"/></clipPath></defs>
<circle cx="1128.2" cy="667.9" r="9.2" fill="#fff" stroke="#d4424f" stroke-width="1.4"/>
<g opacity="0.85"><rect x="1123" y="663.2" width="12" height="1.6" fill="#d4424f"/><rect x="1123" y="667.2" width="12" height="1.6" fill="#d4424f"/><rect x="1123" y="671.2" width="12" height="1.6" fill="#d4424f"/></g>
<circle cx="1119.7" cy="667.9" r="9.2" fill="#fff" stroke="#d4424f" stroke-width="1.4"/>
<g opacity="0.85"><rect x="1115" y="663.2" width="12" height="1.6" fill="#d4424f"/><rect x="1115" y="667.2" width="12" height="1.6" fill="#d4424f"/><rect x="1115" y="671.2" width="12" height="1.6" fill="#d4424f"/></g>
<circle cx="1112.2" cy="667.9" r="9.2" fill="#fff" stroke="#d4424f" stroke-width="1.6"/>
<g clip-path="url(#fl)">
<rect x="1103" y="659" width="19" height="18" fill="#fff"/>
<rect x="1103" y="663.6" width="19" height="1.7" fill="#d4424f"/>
<rect x="1103" y="667.6" width="19" height="1.9" fill="#d4424f"/>
<rect x="1103" y="672.3" width="19" height="5" fill="#d4424f"/>
<rect x="1103" y="659" width="12.2" height="8.4" fill="#3d84e6"/>
<g fill="#bfe0ff"><rect x="1104.8" y="660.3" width="1" height="1"/><rect x="1107" y="660.3" width="1" height="1"/><rect x="1109.2" y="660.3" width="1" height="1"/><rect x="1104.8" y="662.5" width="1" height="1"/><rect x="1107" y="662.5" width="1" height="1"/><rect x="1109.2" y="662.5" width="1" height="1"/><rect x="1104.8" y="664.6" width="1" height="1"/><rect x="1107" y="664.6" width="1" height="1"/><rect x="1109.2" y="664.6" width="1" height="1"/><rect x="1111.4" y="660.3" width="1" height="1"/><rect x="1111.4" y="662.5" width="1" height="1"/><rect x="1111.4" y="664.6" width="1" height="1"/></g>
</g></svg>
<svg style="position:absolute;left:1238px;top:687px" width="20" height="18" viewBox="1238 687 20 18">
<path d="M1240.3,695.5 L1243.9,689.3 H1250.9 L1254.5,695.5 L1250.9,701.7 H1243.9 Z" fill="none" stroke="#131722" stroke-width="1.3" stroke-linejoin="round"/>
<circle cx="1247.4" cy="695.5" r="2" fill="none" stroke="#131722" stroke-width="1.3"/>
</svg>
</body></html>
